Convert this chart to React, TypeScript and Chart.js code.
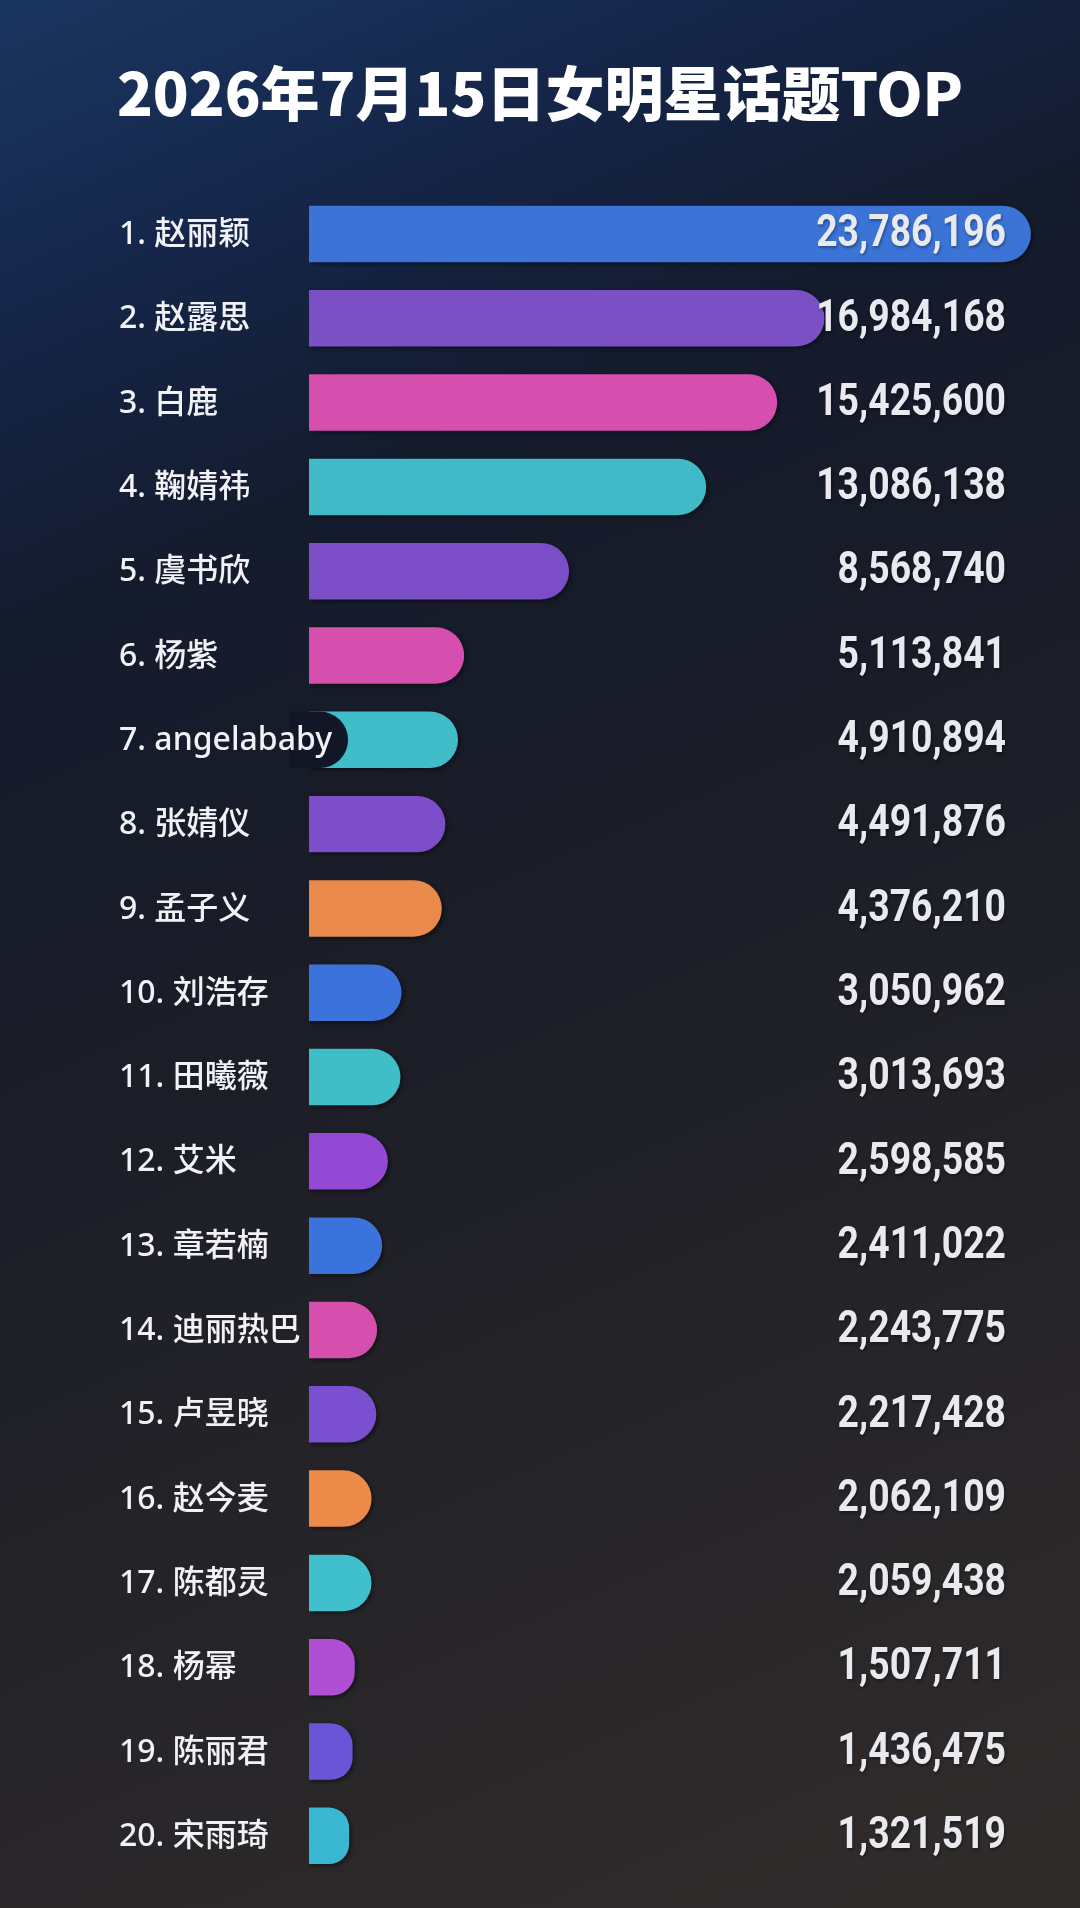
import React, { useEffect, useRef } from 'react';
import { Chart, registerables } from 'chart.js';

Chart.register(...registerables);

const TITLE = '2026年7月15日女明星话题TOP';

const names = [
  '赵丽颖', '赵露思', '白鹿', '鞠婧祎', '虞书欣',
  '杨紫', 'angelababy', '张婧仪', '孟子义', '刘浩存',
  '田曦薇', '艾米', '章若楠', '迪丽热巴', '卢昱晓',
  '赵今麦', '陈都灵', '杨幂', '陈丽君', '宋雨琦',
];

const values = [
  23786196, 16984168, 15425600, 13086138, 8568740,
  5113841, 4910894, 4491876, 4376210, 3050962,
  3013693, 2598585, 2411022, 2243775, 2217428,
  2062109, 2059438, 1507711, 1436475, 1321519,
];

const barColors = [
  '#3b74d6', '#7a50c4', '#d64fae', '#40bac6', '#7b4ec8',
  '#d64fae', '#40bdc9', '#7d4ec9', '#ea894c', '#3b72dc',
  '#40bec8', '#9449d4', '#3b73dc', '#d74fae', '#7a4fd0',
  '#ec8a4a', '#40c0cc', '#b04fd4', '#6a55d6', '#3ab8d2',
];

const rankLabels = names.map((n, i) => `${i + 1}. ${n}`);

const LABEL_X = 119;
const AXIS_WIDTH = 309;

const bgPlugin = {
  id: 'bgGradient',
  beforeDraw(chart: any) {
    const { ctx, width, height } = chart;
    ctx.save();
    const g = ctx.createLinearGradient(0, 0, width * 0.75, height);
    g.addColorStop(0, '#1a3660');
    g.addColorStop(0.14, '#15264a');
    g.addColorStop(0.28, '#141b2d');
    g.addColorStop(0.5, '#1b1d27');
    g.addColorStop(0.75, '#252428');
    g.addColorStop(1, '#302b2b');
    ctx.fillStyle = g;
    ctx.fillRect(0, 0, width, height);
    ctx.restore();
  },
};

const shadowPlugin = {
  id: 'barShadow',
  beforeDatasetDraw(chart: any) {
    const ctx = chart.ctx;
    ctx.save();
    ctx.shadowColor = 'rgba(0,0,0,0.45)';
    ctx.shadowOffsetX = 2;
    ctx.shadowOffsetY = 2;
    ctx.shadowBlur = 4;
  },
  afterDatasetDraw(chart: any) {
    chart.ctx.restore();
  },
};

const labelPlugin = {
  id: 'rowLabels',
  afterDatasetsDraw(chart: any) {
    const { ctx, chartArea } = chart;
    const meta = chart.getDatasetMeta(0);
    const yScale = chart.scales.y;
    ctx.save();
    // names
    ctx.font = '500 32px "Noto Sans", "Noto Sans CJK SC", sans-serif';
    ctx.textBaseline = 'middle';
    ctx.textAlign = 'left';
    rankLabels.forEach((label, i) => {
      const y = yScale.getPixelForValue(i);
      const w = ctx.measureText(label).width;
      const el = meta.data[i];
      if (LABEL_X + w > chartArea.left - 4 && el) {
        const h = el.height;
        const top = el.y - h / 2;
        const r = h / 2;
        const right = LABEL_X + w + 16;
        ctx.save();
        ctx.fillStyle = '#121727';
        ctx.beginPath();
        ctx.moveTo(chartArea.left - 20, top);
        ctx.lineTo(right - r, top);
        ctx.arc(right - r, el.y, r, -Math.PI / 2, Math.PI / 2);
        ctx.lineTo(chartArea.left - 20, top + h);
        ctx.closePath();
        ctx.fill();
        ctx.restore();
      }
      ctx.fillStyle = '#f1f2f6';
      ctx.fillText(label, LABEL_X, y + 1);
    });
    // values
    const valueX = chartArea.right - 74;
    ctx.font = 'bold 45px Roboto, "Liberation Sans", sans-serif';
    ctx.textAlign = 'right';
    ctx.textBaseline = 'middle';
    ctx.shadowColor = 'rgba(0,0,0,0.35)';
    ctx.shadowOffsetX = 1;
    ctx.shadowOffsetY = 2;
    ctx.shadowBlur = 3;
    values.forEach((v, i) => {
      const el = meta.data[i];
      if (!el) return;
      ctx.save();
      ctx.translate(valueX, el.y + 1);
      ctx.scale(0.83, 1);
      ctx.fillStyle = '#e9eaf0';
      ctx.fillText(v.toLocaleString('en-US'), 0, 0);
      ctx.restore();
    });
    ctx.restore();
  },
};

export default function App() {
  const ref = useRef<HTMLCanvasElement>(null);
  useEffect(() => {
    document.body.style.margin = '0';
    document.body.style.background = '#151b2b';
    const chart = new Chart(ref.current as HTMLCanvasElement, {
      type: 'bar',
      data: {
        labels: rankLabels,
        datasets: [
          {
            data: values,
            backgroundColor: barColors,
            borderWidth: 0,
            borderRadius: 30,
            borderSkipped: 'start',
            barPercentage: 0.67,
            categoryPercentage: 1,
          },
        ],
      },
      options: {
        indexAxis: 'y',
        responsive: false,
        animation: false,
        devicePixelRatio: 1,
        layout: { padding: { left: 0, right: 0, top: 0, bottom: 30 } },
        plugins: {
          legend: { display: false },
          tooltip: { enabled: false },
          title: {
            display: true,
            text: TITLE,
            color: '#ffffff',
            font: { family: '"Noto Sans CJK SC", sans-serif', size: 59, weight: '900', lineHeight: 1.2 },
            padding: { top: 58, bottom: 63 },
          },
        },
        scales: {
          x: {
            type: 'linear',
            display: false,
            min: 0,
            max: Math.max(...values) * 1.068,
          },
          y: {
            type: 'category',
            display: true,
            grid: { display: false },
            border: { display: false },
            ticks: { display: false },
            afterFit(scale: any) {
              scale.width = AXIS_WIDTH;
            },
          },
        },
      },
      plugins: [bgPlugin, shadowPlugin, labelPlugin],
    } as any);
    return () => chart.destroy();
  }, []);
  return (
    <div style={{ width: 1080, height: 1908 }}>
      <canvas ref={ref} width={1080} height={1908} style={{ display: 'block', width: 1080, height: 1908 }} />
    </div>
  );
}
